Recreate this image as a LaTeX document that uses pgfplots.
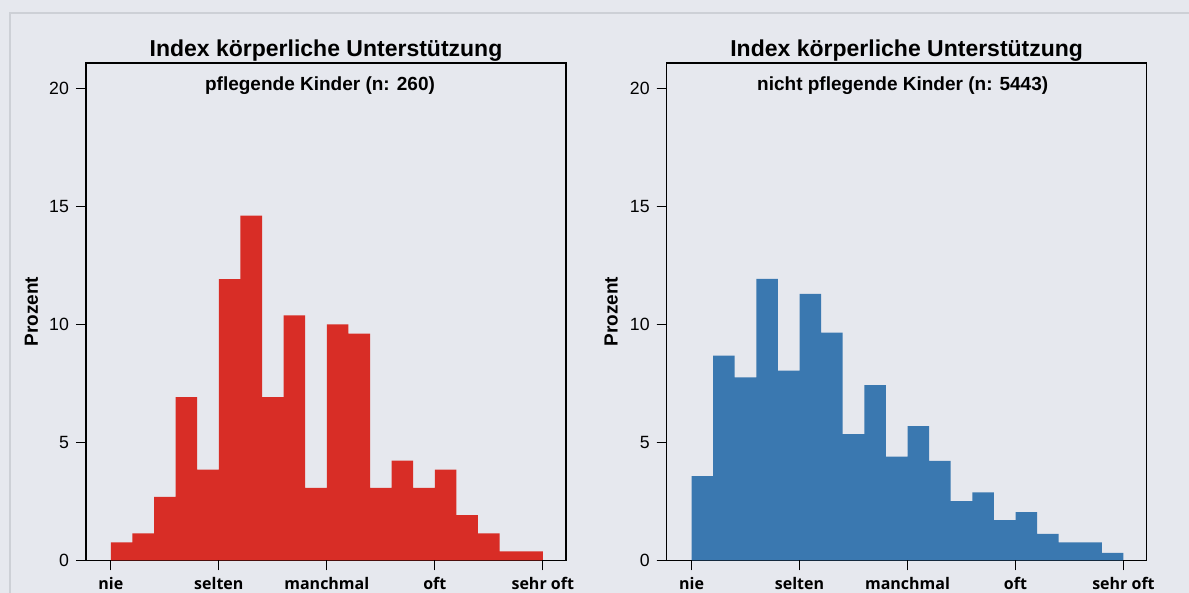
\documentclass[border=0pt]{standalone}
\usepackage{fontspec}
\setmainfont{Liberation Sans}
\newfontfamily\labfont{Open Sans}
\usepackage{pgfplots}
\pgfplotsset{compat=1.18}

\definecolor{pagebg}{HTML}{E6E8EE}
\definecolor{framec}{HTML}{CDD0D6}
\definecolor{histred}{HTML}{D82D26}
\definecolor{histblue}{HTML}{3A78B0}

\tikzset{sub/.style={anchor=base, font=\bfseries\fontsize{9.5}{11}\selectfont},
  tickline/.style={black, line width=0.6pt}}

% shared look of both histograms (1 px of the reference = 0.5pt)
\pgfplotsset{
  hist/.style={
    scale only axis, anchor=south west,
    width=240pt, height=248.75pt,
    xmin=0.77, xmax=5.215, ymin=0, ymax=21.08,
    axis line style={line width=0.6pt, black},
    xtick={1,2,3,4,5},
    xticklabels={nie,selten,manchmal,oft,sehr oft},
    ytick={0,5,10,15,20},
    tick align=outside, tick pos=left,
    major tick length=5pt,
    every tick/.style={black, line width=0.6pt},
    /pgf/number format/assume math mode=true,
    yticklabel style={font=\fontsize{8.85}{10}\selectfont},
    xticklabel style={font=\labfont\bfseries\fontsize{8}{9}\selectfont},
    every axis title shift=0pt,
    title style={at={(0.5,1)}, anchor=base, yshift=3.2pt,
      font=\bfseries\fontsize{11.5}{13}\selectfont},
    title={Index körperliche Unterstützung},
    ylabel={Prozent},
    ylabel style={anchor=center, rotate=0,
      font=\bfseries\fontsize{9.5}{11}\selectfont},
  },
}

\begin{document}
\begin{tikzpicture}
\useasboundingbox (0,0) rectangle (594.5pt,296.5pt);
\fill[pagebg] (0,0) rectangle (594.5pt,296.5pt);
\draw[framec, line width=1pt] (5pt,0) -- (5pt,290pt) -- (594.5pt,290pt);

% pflegende Kinder
\begin{axis}[hist, at={(43pt,16.25pt)},
  ylabel style={at={(axis description cs:-0.1136,0.5)}}]
\addplot[ybar interval, fill=histred, draw=none] coordinates {
  (1.0,0.769) (1.2,1.154) (1.4,2.692) (1.6,6.923) (1.8,3.846)
  (2.0,11.923) (2.2,14.615) (2.4,6.923) (2.6,10.385) (2.8,3.077)
  (3.0,10.000) (3.2,9.615) (3.4,3.077) (3.6,4.231) (3.8,3.077)
  (4.0,3.846) (4.2,1.923) (4.4,1.154) (4.6,0.385) (4.8,0.385)
  (5.0,0.385)};
\node[sub, xshift=-3pt] at (axis description cs:0.5,0.9457) {pflegende Kinder (n: 260)};
\end{axis}

% nicht pflegende Kinder
\begin{axis}[hist, at={(333.35pt,16.25pt)},
  ylabel style={at={(axis description cs:-0.1158,0.5)}}]
\addplot[ybar interval, fill=histblue, draw=none] coordinates {
  (1.0,3.58) (1.2,8.68) (1.4,7.76) (1.6,11.93) (1.8,8.04)
  (2.0,11.30) (2.2,9.65) (2.4,5.35) (2.6,7.43) (2.8,4.40)
  (3.0,5.69) (3.2,4.22) (3.4,2.52) (3.6,2.89) (3.8,1.71)
  (4.0,2.05) (4.2,1.13) (4.4,0.77) (4.6,0.77) (4.8,0.32)
  (5.0,0.32)};
\node[sub, xshift=-2pt] at (axis description cs:0.5,0.9457) {nicht pflegende Kinder (n: 5443)};
\end{axis}

% tick marks of both panels (y: 0..20 every 5, x: the five categories)
\foreach \ox in {43,333.35}{
  \foreach \yy in {16.25,75.25,134.25,193.25,252.25}{
    \draw[tickline] (\ox pt-5pt,\yy pt) -- (\ox pt,\yy pt);}
  \foreach \dx in {12.42,66.41,120.40,174.40,228.39}{
    \draw[tickline] (\ox pt+\dx pt,16.25pt) -- (\ox pt+\dx pt,13.75pt);}
}
\end{tikzpicture}
\end{document}
